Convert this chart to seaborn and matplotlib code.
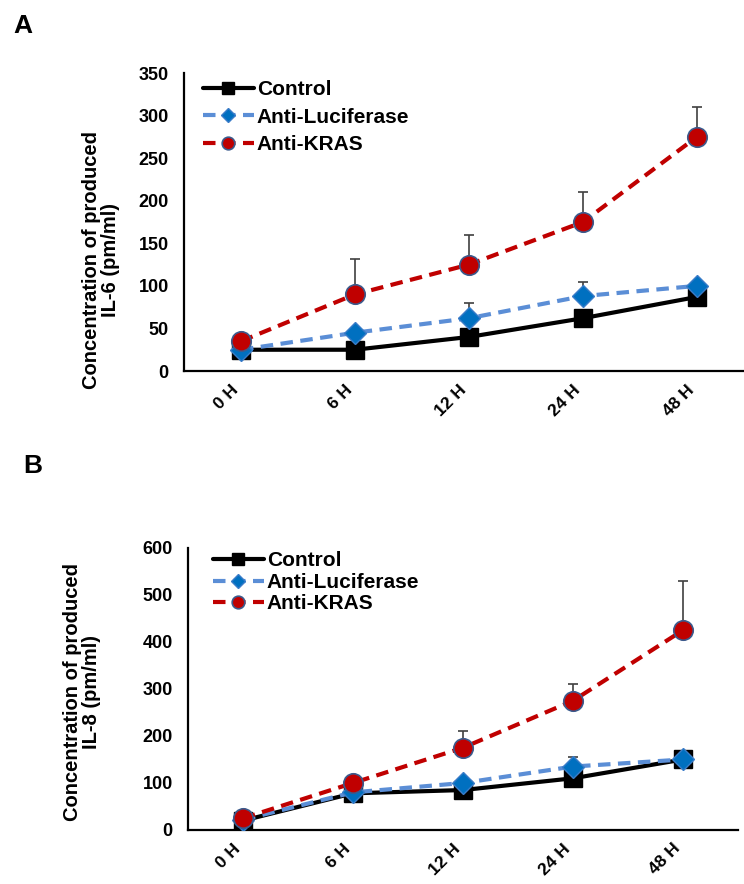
import numpy as np
import pandas as pd
import matplotlib
matplotlib.use('Agg')
import matplotlib.pyplot as plt
import matplotlib.transforms as mtrans
import seaborn as sns

# ---------------------------------------------------------
# Data
# ---------------------------------------------------------
times = ['0 H', '6 H', '12 H', '24 H', '48 H']
groups = ['Control', 'Anti-Luciferase', 'Anti-KRAS']

il6_control = [25, 25, 40, 62, 87]
il6_luc = [25, 45, 62, 88, 100]
il6_kras = [35, 90, 125, 175, 275]
il6_control_err = [0, 0, 0, 0, 0]
il6_luc_err = [0, 0, 18, 17, 0]
il6_kras_err = [0, 42, 35, 35, 35]

il8_control = [20, 78, 85, 110, 150]
il8_luc = [22, 80, 100, 135, 150]
il8_kras = [25, 100, 175, 275, 425]
il8_control_err = [0, 0, 0, 0, 0]
il8_luc_err = [0, 0, 0, 20, 0]
il8_kras_err = [0, 0, 35, 35, 105]

sns.set_style('white')
plt.rcParams.update({
    'font.family': ['Liberation Sans', 'DejaVu Sans'],
    'font.weight': 'bold',
    'axes.labelweight': 'bold',
    'text.color': 'black',
    'axes.labelcolor': 'black',
    'xtick.color': 'black',
    'ytick.color': 'black',
})

styles = {
    'Control': dict(color='black', linestyle='-', marker='s', markersize=13,
                    markerfacecolor='black', markeredgecolor='black', markeredgewidth=1),
    'Anti-Luciferase': dict(color='#5B8ED6', linestyle=(0, (3, 1.8)), marker='D', markersize=11,
                            markerfacecolor='#0070C0', markeredgecolor='#3A7CC8', markeredgewidth=1),
    'Anti-KRAS': dict(color='#C00000', linestyle=(0, (3, 1.8)), marker='o', markersize=14,
                      markerfacecolor='#C00000', markeredgecolor='#3B5A8C', markeredgewidth=1.2),
}


def draw_panel(ax, series, errs, ymax, ystep, ylabel, label_xy, leg_anchor, leg_spacing):
    x = np.arange(len(times))
    df = pd.DataFrame({'x': np.tile(x, len(groups)),
                       'y': np.concatenate(series),
                       'err': np.concatenate(errs),
                       'group': np.repeat(groups, len(times))})
    for g in groups:
        d = df[df['group'] == g]
        ax.errorbar(d['x'], d['y'], yerr=[np.zeros(len(d)), d['err']], fmt='none',
                    ecolor='#404040', elinewidth=1.2, capsize=3.5, capthick=1.2, zorder=1)
    for g in groups:
        d = df[df['group'] == g]
        sns.lineplot(data=d, x='x', y='y', ax=ax, label=g, linewidth=3, zorder=3, **styles[g])

    ax.set_xlim(-0.5, len(times) - 0.5)
    ax.set_ylim(0, ymax)
    ax.set_yticks(np.arange(0, ymax + 1, ystep))
    ax.set_xticks(np.arange(-0.5, len(times)))
    ax.set_xticklabels([])
    ax.set_xticks(x, minor=True)
    ax.set_xticklabels(times, minor=True, rotation=45, ha='right', fontsize=12.5, fontweight='bold')
    offset = mtrans.ScaledTranslation(6 / 72, 0, ax.figure.dpi_scale_trans)
    for lbl in ax.get_xticklabels(minor=True):
        lbl.set_transform(lbl.get_transform() + offset)
    ax.tick_params(axis='x', which='major', direction='out', length=4, width=1.5)
    ax.tick_params(axis='x', which='minor', length=0, pad=8)
    ax.tick_params(axis='y', direction='out', length=3, width=1.5, labelsize=13, pad=8)
    for lbl in ax.get_yticklabels():
        lbl.set_fontweight('bold')
    sns.despine(ax=ax)
    for s in ['left', 'bottom']:
        ax.spines[s].set_linewidth(1.6)
        ax.spines[s].set_color('black')
    ax.spines['bottom'].set_clip_on(False)

    ax.set_xlabel('')
    ax.set_ylabel(ylabel, fontsize=14.5, fontweight='bold', linespacing=1.0)
    ax.yaxis.set_label_coords(*label_xy)
    ax.yaxis.label.set_verticalalignment('center')

    ax.legend(loc='upper left', bbox_to_anchor=leg_anchor, frameon=False,
              prop={'size': 15, 'weight': 'bold'}, handlelength=2.45, handletextpad=0.15,
              labelspacing=leg_spacing, borderpad=0, borderaxespad=0, markerscale=0.65)


fig = plt.figure(figsize=(7.44, 8.84), dpi=100)
ax_a = fig.add_axes([0.2473, 0.5803, 0.766, 0.3371])
ax_b = fig.add_axes([0.2527, 0.0611, 0.7392, 0.3190])

draw_panel(ax_a, [il6_control, il6_luc, il6_kras],
           [il6_control_err, il6_luc_err, il6_kras_err],
           350, 50, 'Concentration of produced\nIL-6 (pm/ml)',
           (-0.146, 0.372), (0.033, 0.976), 0.4)
draw_panel(ax_b, [il8_control, il8_luc, il8_kras],
           [il8_control_err, il8_luc_err, il8_kras_err],
           600, 100, 'Concentration of produced\nIL-8 (pm/ml)',
           (-0.193, 0.49), (0.045, 0.988), 0.12)

fig.text(23 / 744, 1 - 26 / 884, 'A', fontsize=19, fontweight='bold', va='center', ha='center')
fig.text(33 / 744, 1 - 466 / 884, 'B', fontsize=19, fontweight='bold', va='center', ha='center')

fig.savefig('out.png', dpi=100)
